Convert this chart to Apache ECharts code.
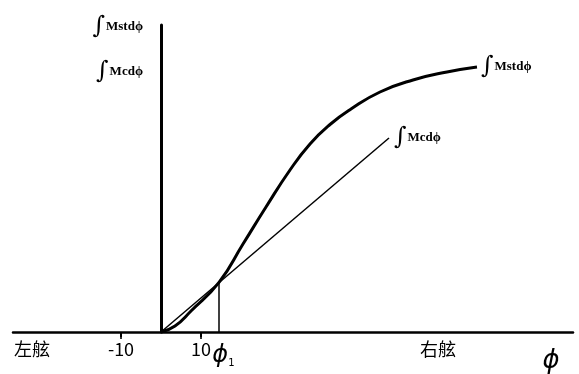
<!DOCTYPE html>
<html>
<head>
<meta charset="utf-8">
<script src="https://cdn.jsdelivr.net/npm/echarts@6/dist/echarts.min.js"></script>
<style>html,body{margin:0;padding:0;background:#fff}#c{width:579px;height:374px}</style>
</head>
<body>
<div id="c"></div>
<script>
// Heel angle (deg) vs integrated moment (arbitrary units)
var mstX = [0, 3.5, 7.5, 14.5, 20.5, 26.25, 32.25, 37.25, 42.25, 47.5, 54.75, 63, 71.5, 79];
var mstY = [0, 6, 21, 49.6, 88, 125, 162, 188, 207.5, 223, 240, 252, 260, 265];
var mcX = [0, 57];
var mcY = [0, 194];
var phi1X = [14.5, 14.5];
var phi1Y = [0, 49.6];
var xTickValues = [-10, 10];
var xTickY = [0, 0];
var xLabelValues = [-32.25, -10, 10, 15.6, 69.25, 97.5];
var xLabelTexts = ['左舷', '-10', '10', '{p|ϕ}{s|1}', '右舷', '{b|ϕ}'];
var yLabelValues = [305, 260];
var yLabelTexts = ['{i|∫}{t|Mstdϕ}', '{i|∫}{t|Mcdϕ}'];
var mstName = '∫Mstdϕ';
var mcName = '∫Mcdϕ';

function zip(a, b) { return a.map(function (v, i) { return [v, b[i]]; }); }

var intRich = {
  i: { fontFamily: 'DejaVu Serif', fontSize: 24, fontStyle: 'italic', color: '#000', padding: [0, 1, 0, 0] },
  t: { fontFamily: 'Liberation Serif', fontSize: 13, fontWeight: 'bold', color: '#000' }
};

var chart = echarts.init(document.getElementById('c'), null, { renderer: 'canvas' });
chart.setOption({
  animation: false,
  backgroundColor: '#fff',
  grid: { left: 13, right: 6, top: 25, bottom: 42, containLabel: false, outerBoundsMode: 'none' },
  xAxis: {
    type: 'value', min: -37, max: 103,
    splitLine: { show: false },
    axisLine: { show: true, onZero: true, lineStyle: { color: '#000', width: 2.5 } },
    axisTick: { show: true, customValues: xTickValues, length: 5, lineStyle: { color: '#000', width: 2 } },
    axisLabel: {
      show: true, customValues: xLabelValues, margin: 8,
      fontFamily: 'Noto Sans CJK SC', fontSize: 18, color: '#000',
      formatter: function (v) {
        var idx = xLabelValues.indexOf(v);
        return idx >= 0 ? xLabelTexts[idx] : '';
      },
      rich: {
        p: { fontFamily: 'DejaVu Sans', fontSize: 24, fontStyle: 'italic', color: '#000', padding: [4, 0, 0, 0] },
        s: { fontFamily: 'DejaVu Sans', fontSize: 10, color: '#000', verticalAlign: 'bottom', padding: [16, 0, 0, 0] },
        b: { fontFamily: 'DejaVu Sans', fontSize: 26, fontStyle: 'italic', color: '#000', padding: [8, 0, 0, 0] }
      }
    }
  },
  yAxis: {
    type: 'value', min: 0, max: 307,
    splitLine: { show: false },
    axisLine: { show: true, onZero: true, lineStyle: { color: '#000', width: 3 } },
    axisTick: { show: false },
    axisLabel: {
      show: true, customValues: yLabelValues, margin: -130,
      formatter: function (v) {
        var idx = yLabelValues.indexOf(v);
        return idx >= 0 ? yLabelTexts[idx] : '';
      },
      rich: intRich
    }
  },
  series: [
    {
      name: mstName, type: 'line', data: zip(mstX, mstY), smooth: 0.5, symbol: 'none',
      lineStyle: { color: '#000', width: 3 },
      endLabel: { show: true, distance: 4, formatter: '{i|∫}{t|Mstdϕ}', rich: intRich }
    },
    {
      name: mcName, type: 'line', data: zip(mcX, mcY), symbol: 'none',
      lineStyle: { color: '#000', width: 1.5 },
      endLabel: { show: true, distance: 5, formatter: '{i|∫}{t|Mcdϕ}', rich: intRich }
    },
    {
      name: 'phi1', type: 'line', data: zip(phi1X, phi1Y), symbol: 'none',
      lineStyle: { color: '#000', width: 1.5 }
    },
    {
      name: 'ticks', type: 'scatter', data: zip(xTickValues, xTickY),
      symbol: 'rect', symbolSize: [2, 6], symbolOffset: [0, 4],
      itemStyle: { color: '#000' }, silent: true
    }
  ]
});
</script>
</body>
</html>
